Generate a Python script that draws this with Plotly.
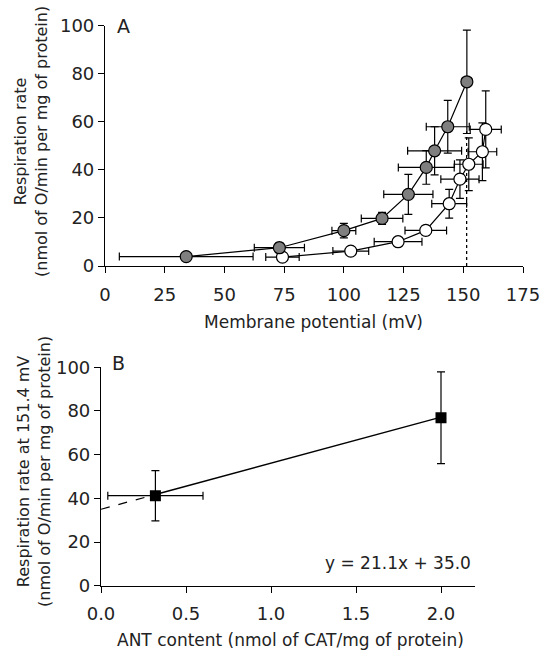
import plotly.graph_objects as go

# Panel A data
gray_x = [34, 73, 100, 116, 127, 134.5, 138, 143.5, 151.5]
gray_y = [3.9, 7.6, 14.7, 19.8, 29.8, 41.0, 47.9, 57.9, 76.6]
gray_xerr = [28, 10.5, 5, 8.7, 10.3, 11.7, 11.3, 9, 2]
gray_yerr = [1.5, 2, 3, 2.5, 8.3, 7, 10, 11, 21.5]

white_x = [74.3, 102.9, 122.7, 134.3, 144.1, 148.6, 152.3, 158, 159.4]
white_y = [3.7, 6.2, 10.1, 14.8, 25.9, 36.1, 42.3, 47.5, 56.8]
white_xerr = [7, 7.5, 10, 8.7, 7.3, 8, 6, 6, 6.5]
white_yerr = [1, 1.5, 1.5, 2, 6, 8, 11, 12, 16]

ref_potential = 151.4
ref_line_y = [0, 56]

# Panel B data
ant_x = [0.32, 2.0]
ant_y = [41.2, 76.9]
ant_xerr = [0.28, 0.0]
ant_yerr = [11.5, 21]
slope, intercept = 21.1, 35.0

W, H = 543, 652
FONT = "DejaVu Sans"
TICK = 18
TITLE = 17
YTITLE = 16

def px(x):
    return x / W

def py(y):
    return 1 - y / H

fig = go.Figure()

err_style = dict(color="black", thickness=1.2, width=4)

fig.add_trace(go.Scatter(
    x=[ref_potential, ref_potential], y=ref_line_y, mode="lines",
    line=dict(color="black", width=1.3, dash="dot"), xaxis="x", yaxis="y",
    showlegend=False))

fig.add_trace(go.Scatter(
    x=white_x, y=white_y, mode="lines+markers",
    line=dict(color="black", width=1.2),
    marker=dict(symbol="circle", size=12, color="white",
                line=dict(color="black", width=1.2)),
    error_x=dict(type="data", array=white_xerr, visible=True, **err_style),
    error_y=dict(type="data", array=white_yerr, visible=True, **err_style),
    xaxis="x", yaxis="y", showlegend=False))

fig.add_trace(go.Scatter(
    x=gray_x, y=gray_y, mode="lines+markers",
    line=dict(color="black", width=1.2),
    marker=dict(symbol="circle", size=12, color="#7f7f7f",
                line=dict(color="black", width=1.2)),
    error_x=dict(type="data", array=gray_xerr, visible=True, **err_style),
    error_y=dict(type="data", array=gray_yerr, visible=True, **err_style),
    xaxis="x", yaxis="y", showlegend=False))

# Panel B
fig.add_trace(go.Scatter(
    x=[0, ant_x[0]], y=[intercept, intercept + slope * ant_x[0]], mode="lines",
    line=dict(color="black", width=1.2, dash="dash"),
    xaxis="x2", yaxis="y2", showlegend=False))
fig.add_trace(go.Scatter(
    x=[ant_x[0], ant_x[1]],
    y=[intercept + slope * ant_x[0], intercept + slope * ant_x[1]], mode="lines",
    line=dict(color="black", width=1.4),
    xaxis="x2", yaxis="y2", showlegend=False))
fig.add_trace(go.Scatter(
    x=ant_x, y=ant_y, mode="markers",
    marker=dict(symbol="square", size=11, color="black"),
    error_x=dict(type="data", array=ant_xerr, visible=True, **err_style),
    error_y=dict(type="data", array=ant_yerr, visible=True, **err_style),
    xaxis="x2", yaxis="y2", showlegend=False))

axis_common = dict(
    showline=True, linecolor="black", linewidth=1.2, ticks="outside",
    ticklen=6, tickwidth=1.2, tickcolor="black", showgrid=False, zeroline=False,
    automargin=False,
    tickfont=dict(family=FONT, size=TICK, color="#222"),
)

fig.update_layout(
    width=W, height=H, margin=dict(l=0, r=0, t=0, b=0, pad=0, autoexpand=False),
    paper_bgcolor="white", plot_bgcolor="white",
    font=dict(family=FONT, color="#222"),
    xaxis=dict(domain=[px(105), px(523)], range=[0, 175], tickvals=[0, 25, 50, 75, 100, 125, 150, 175],
               anchor="y", ticklabelstandoff=6, **axis_common),
    yaxis=dict(domain=[py(266), py(25.5)], range=[0, 100], tickvals=[0, 20, 40, 60, 80, 100],
               anchor="x", **axis_common),
    xaxis2=dict(domain=[px(101), px(475)], range=[0, 2.2], tickvals=[0, 0.5, 1.0, 1.5, 2.0],
                tickformat=".1f", anchor="y2", ticklabelstandoff=6, **axis_common),
    yaxis2=dict(domain=[py(585.7), py(367.3)], range=[0, 100], tickvals=[0, 20, 40, 60, 80, 100],
                anchor="x2", **axis_common),
)

ann = []
tf = dict(family=FONT, size=TITLE, color="#222")
ytf = dict(family=FONT, size=YTITLE, color="#222")
base = dict(xref="paper", yref="paper", showarrow=False, xanchor="center", yanchor="middle")
ann.append(dict(text="A", x=px(123), y=py(26), font=dict(family=FONT, size=19, color="#222"), **base))
ann.append(dict(text="B", x=px(118), y=py(363), font=dict(family=FONT, size=19, color="#222"), **base))
ann.append(dict(text="Membrane potential (mV)", x=px(313), y=py(322), font=tf, **base))
ann.append(dict(text="ANT content (nmol of CAT/mg of protein)", x=px(290), y=py(640), font=tf, **base))
ann.append(dict(text="Respiration rate<br>(nmol of O/min per mg of protein)", x=px(31), y=py(142),
                textangle=-90, font=ytf, **base))
ann.append(dict(text="Respiration rate at 151.4 mV<br>(nmol of O/min per mg of protein)",
                x=px(34), y=py(472), textangle=-90, font=ytf, **base))
ann.append(dict(text="y = 21.1x + 35.0", x=px(473), y=py(563), xref="paper", yref="paper",
                xanchor="right", yanchor="middle", showarrow=False, font=tf))
fig.update_layout(annotations=ann)

fig.write_html("out.html")
